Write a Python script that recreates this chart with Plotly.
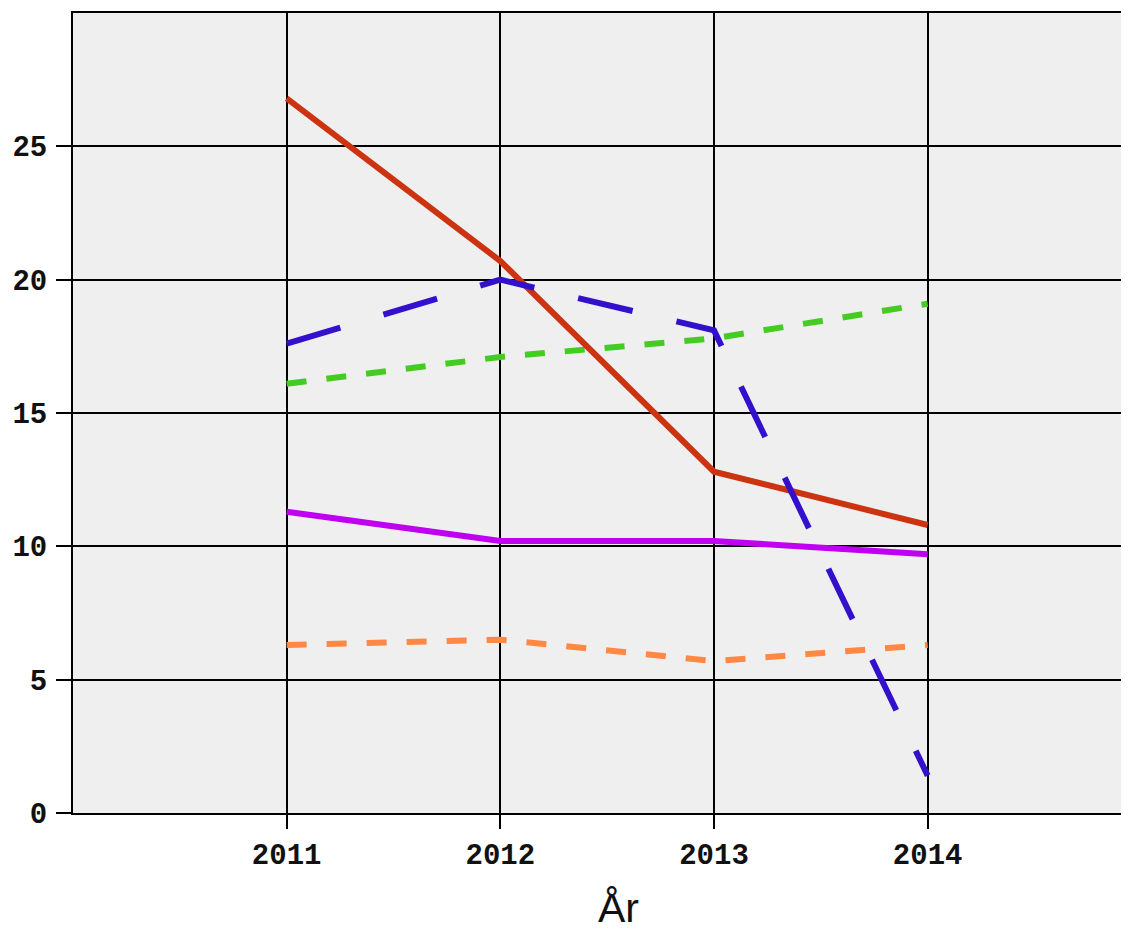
import plotly.graph_objects as go

years = [2011, 2012, 2013, 2014]
red_vals = [26.8, 20.7, 12.8, 10.8]
blue_vals = [17.6, 20.0, 18.1, 1.4]
green_vals = [16.1, 17.1, 17.8, 19.1]
magenta_vals = [11.3, 10.2, 10.2, 9.7]
orange_vals = [6.3, 6.5, 5.7, 6.3]
y_ticks = [0, 5, 10, 15, 20, 25]
x_title = "År"

fig = go.Figure()

def add(vals, color, dash):
    fig.add_trace(go.Scatter(x=years, y=vals, mode="lines",
                             line=dict(color=color, width=6, dash=dash),
                             showlegend=False, hoverinfo="skip"))

add(orange_vals, "#ff8844", "20px,20px")
add(magenta_vals, "#c000f0", "solid")
add(green_vals, "#44cc22", "20px,20px")
add(red_vals, "#cc3311", "solid")
add(blue_vals, "#3311cc", "56px,45px")

OFF = 8  # page body offset
W, H = 1129, 930 - OFF
L, R, T = 73 - OFF, 0, 13 - OFF
B = OFF + H - 813
px_per_year = (928 - 287) / 3.0
x_end = 2010 + (W - L - R) / px_per_year
fig.update_layout(
    width=W, height=H,
    margin=dict(l=L, r=R, t=T, b=B),
    paper_bgcolor="white", plot_bgcolor="#efefef",
    font=dict(family="Liberation Mono", size=29, color="#111111", weight="bold"),
)
fig.update_xaxes(
    range=[2010, x_end], tickvals=years, ticktext=[str(y) for y in years],
    showgrid=True, gridcolor="black", gridwidth=2,
    showline=True, linecolor="black", linewidth=2, mirror=True,
    ticks="outside", ticklen=14, tickwidth=2, tickcolor="black",
    zeroline=False, ticklabelstandoff=0,
)
fig.update_yaxes(
    range=[0, 30], tickvals=y_ticks,
    showgrid=True, gridcolor="black", gridwidth=2,
    showline=True, linecolor="black", linewidth=2, mirror=False,
    ticks="outside", ticklen=15, tickwidth=2, tickcolor="black",
    zeroline=False, ticklabelstandoff=3,
)
plot_h = H - T - B
fig.add_annotation(
    text=x_title, xref="paper", yref="paper",
    x=(618 - 73) / (W - L - R), y=-(908 - 813) / plot_h,
    showarrow=False, xanchor="center", yanchor="middle",
    font=dict(family="Liberation Sans", size=41, color="#111111", weight="normal"),
)
fig.write_html("out.html")
